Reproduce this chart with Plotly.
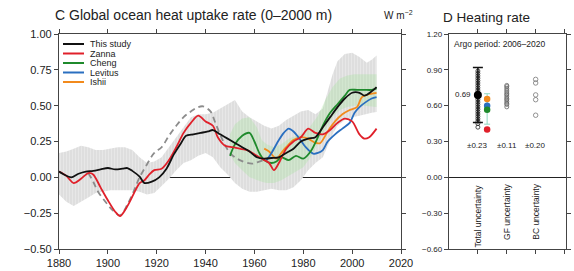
import plotly.graph_objects as go

# ---------------- Data: panel C (W m-2) ----------------
study_years = [1880,1882,1885,1888,1891,1894,1897,1900,1903,1906,1908,1910,1913,1915,1918,1921,1924,1927,1930,1932,1935,1938,1941,1943,1946,1949,1952,1955,1958,1961,1964,1967,1970,1973,1976,1979,1982,1985,1988,1991,1994,1997,2000,2003,2005,2008,2010]
study_vals  = [0.04,0.02,0.00,0.025,0.04,0.045,0.055,0.065,0.055,0.06,0.065,0.045,0.005,-0.04,-0.03,0.0,0.06,0.16,0.24,0.29,0.30,0.31,0.32,0.33,0.30,0.27,0.24,0.21,0.18,0.14,0.13,0.135,0.14,0.17,0.20,0.25,0.27,0.28,0.35,0.42,0.49,0.55,0.59,0.59,0.57,0.60,0.63]

zanna_years = [1880,1883,1886,1889,1892,1894,1897,1900,1903,1905,1907,1909,1911,1913,1915,1917,1919,1922,1925,1928,1931,1934,1937,1940,1943,1945,1948,1951,1954,1957,1960,1963,1966,1968,1970,1973,1976,1979,1982,1985,1988,1991,1994,1997,2000,2003,2005,2007,2010]
zanna_vals  = [0.04,0.01,-0.04,-0.01,0.03,0.02,-0.07,-0.16,-0.24,-0.27,-0.23,-0.17,-0.10,-0.04,-0.02,0.02,0.05,0.06,0.12,0.21,0.31,0.38,0.43,0.39,0.36,0.28,0.22,0.21,0.20,0.19,0.16,0.13,0.10,0.05,0.10,0.20,0.25,0.28,0.34,0.31,0.30,0.33,0.38,0.41,0.39,0.30,0.27,0.28,0.34]

cheng_years = [1950,1952,1955,1958,1960,1962,1964,1967,1969,1971,1974,1977,1980,1983,1986,1988,1991,1994,1997,1999,2002,2005,2008,2010]
cheng_vals  = [0.15,0.23,0.29,0.31,0.25,0.17,0.12,0.10,0.11,0.14,0.12,0.15,0.13,0.18,0.28,0.36,0.45,0.51,0.57,0.61,0.61,0.61,0.61,0.62]

levitus_years = [1965,1967,1970,1972,1974,1976,1978,1981,1984,1986,1988,1990,1993,1996,1999,2001,2003,2006,2008,2010]
levitus_vals  = [0.12,0.17,0.26,0.31,0.34,0.32,0.28,0.21,0.165,0.17,0.19,0.25,0.30,0.34,0.38,0.45,0.49,0.53,0.55,0.56]

ishii_years = [1964,1966,1969,1971,1973,1976,1979,1982,1985,1987,1990,1993,1996,1999,2002,2004,2007,2010]
ishii_vals  = [0.20,0.18,0.13,0.17,0.21,0.26,0.28,0.27,0.24,0.24,0.32,0.39,0.44,0.47,0.49,0.56,0.58,0.59]

dashed_years = [1892,1894,1896,1899,1902,1905,1908,1911,1913,1916,1919,1922,1925,1928,1931,1934,1937,1939,1942,1944,1947,1950,1954,1959,1962,1965]
dashed_vals  = [0.03,-0.03,-0.10,-0.17,-0.23,-0.265,-0.19,-0.08,0.0,0.09,0.17,0.21,0.29,0.36,0.42,0.46,0.49,0.495,0.46,0.38,0.26,0.17,0.12,0.095,0.11,0.13]

band_years = [1880,1883,1886,1889,1892,1895,1898,1901,1904,1907,1910,1913,1916,1919,1922,1925,1928,1931,1934,1937,1940,1943,1946,1949,1952,1955,1958,1961,1964,1967,1970,1973,1976,1979,1982,1985,1988,1990,1992,1994,1997,2000,2003,2006,2008,2010]
band_upper = [0.17,0.18,0.20,0.22,0.21,0.19,0.19,0.20,0.21,0.21,0.19,0.14,0.10,0.11,0.14,0.21,0.28,0.35,0.42,0.44,0.44,0.45,0.48,0.51,0.54,0.46,0.42,0.39,0.36,0.34,0.36,0.40,0.43,0.46,0.47,0.44,0.48,0.60,0.72,0.81,0.86,0.87,0.84,0.80,0.82,0.85]
band_lower = [-0.12,-0.17,-0.20,-0.17,-0.14,-0.11,-0.10,-0.09,-0.09,-0.09,-0.09,-0.10,-0.12,-0.11,-0.06,-0.01,0.05,0.10,0.12,0.15,0.17,0.14,0.07,0.02,-0.04,-0.08,-0.10,-0.10,-0.09,-0.08,-0.09,-0.09,-0.07,-0.02,0.05,0.10,0.14,0.22,0.30,0.36,0.40,0.42,0.43,0.44,0.45,0.455]

green_years = [1950,1952,1955,1958,1961,1963,1965,1968,1971,1974,1977,1980,1983,1986,1989,1992,1995,1998,2001,2005,2010]
green_upper = [0.30,0.37,0.41,0.42,0.35,0.26,0.23,0.21,0.23,0.27,0.29,0.31,0.36,0.43,0.54,0.63,0.69,0.71,0.72,0.72,0.72]
green_lower = [0.16,0.10,0.05,0.00,-0.02,-0.03,-0.04,-0.04,-0.02,0.01,0.04,0.07,0.14,0.23,0.33,0.42,0.47,0.49,0.50,0.50,0.49]

# ---------------- Data: panel D ----------------
total_mean = 0.69
total_err = 0.23
total_ensemble = [0.42,0.45,0.47,0.49,0.51,0.53,0.55,0.57,0.59,0.61,0.63,0.65,0.67,0.71,0.73,0.75,0.77,0.79,0.81,0.83,0.85,0.87,0.89]
gf_ensemble = [0.59,0.61,0.62,0.635,0.65,0.66,0.675,0.69,0.70,0.715,0.73,0.745,0.76,0.77]
bc_ensemble = [0.82,0.79,0.69,0.65,0.52]
products = ["Ishii", "Levitus", "Cheng", "Zanna"]
product_rates = [0.655, 0.60, 0.565, 0.40]
unc_labels = ["±0.23", "±0.11", "±0.20"]
cat_labels = ["Total uncertainty", "GF uncertainty", "BC uncertainty"]

C_BLACK = "#111111"
C_RED = "#e0202a"
C_GREEN = "#1f8a2c"
C_BLUE = "#2a6fc0"
C_ORANGE = "#f28a1c"

FONT = "Liberation Sans"
W, H = 574, 271

def px(x):
    return x / W

def py(y):
    return 1 - y / H

fig = go.Figure()

# gray uncertainty band
fig.add_trace(go.Scatter(
    x=band_years + band_years[::-1], y=band_upper + band_lower[::-1],
    fill="toself", mode="lines", line=dict(width=0),
    fillcolor="#dddddd",
    fillpattern=dict(shape="|", bgcolor="#dedede", fgcolor="#f0f0f0", size=3, solidity=0.35),
    hoverinfo="skip", showlegend=False, xaxis="x", yaxis="y"))
# green uncertainty band
fig.add_trace(go.Scatter(
    x=green_years + green_years[::-1], y=green_upper + green_lower[::-1],
    fill="toself", mode="lines", line=dict(width=0),
    fillcolor="rgba(150,228,140,0.26)",
    hoverinfo="skip", showlegend=False, xaxis="x", yaxis="y"))

fig.add_trace(go.Scatter(x=dashed_years, y=dashed_vals, mode="lines",
                         line=dict(color="#8c8c8c", width=1.8, dash="6px,4px", shape="spline"),
                         showlegend=False, xaxis="x", yaxis="y"))

series = [
    (ishii_years, ishii_vals, C_ORANGE),
    (levitus_years, levitus_vals, C_BLUE),
    (cheng_years, cheng_vals, C_GREEN),
    (zanna_years, zanna_vals, C_RED),
    (study_years, study_vals, C_BLACK),
]
for xs, ys, c in series:
    fig.add_trace(go.Scatter(x=xs, y=ys, mode="lines",
                             line=dict(color=c, width=1.8, shape="spline", smoothing=0.8),
                             showlegend=False, xaxis="x", yaxis="y"))

# ---- panel D ----
fig.add_trace(go.Scatter(x=[1] * len(total_ensemble), y=total_ensemble, mode="markers",
                         marker=dict(symbol="circle-open", size=4, color="#222", line=dict(width=0.8)),
                         showlegend=False, xaxis="x2", yaxis="y2"))
fig.add_trace(go.Scatter(x=[1], y=[total_mean], mode="markers",
                         marker=dict(symbol="circle", size=8, color="#000"),
                         error_y=dict(type="constant", value=total_err, color="#111", thickness=1.5, width=5),
                         showlegend=False, xaxis="x2", yaxis="y2"))
fig.add_trace(go.Scatter(x=[1.32], y=[0.5725], mode="markers",
                         marker=dict(size=1, color="rgba(0,0,0,0)"),
                         error_y=dict(type="constant", value=0.1275, color="#8fd8c0", thickness=1, width=3),
                         showlegend=False, xaxis="x2", yaxis="y2"))
prod_colors = [C_ORANGE, C_BLUE, C_GREEN, C_RED]
fig.add_trace(go.Scatter(x=[1.32] * len(product_rates), y=product_rates, mode="markers",
                         text=products,
                         marker=dict(symbol="circle", size=6.5, color=prod_colors),
                         showlegend=False, xaxis="x2", yaxis="y2"))
fig.add_trace(go.Scatter(x=[2] * len(gf_ensemble), y=gf_ensemble, mode="markers",
                         marker=dict(symbol="circle-open", size=4, color="#666", line=dict(width=0.8)),
                         showlegend=False, xaxis="x2", yaxis="y2"))
fig.add_trace(go.Scatter(x=[3] * len(bc_ensemble), y=bc_ensemble, mode="markers",
                         marker=dict(symbol="circle-open", size=4.5, color="#777", line=dict(width=0.8)),
                         showlegend=False, xaxis="x2", yaxis="y2"))

annotations = []
# titles
annotations.append(dict(text="C Global ocean heat uptake rate (0\u20132000 m)", x=px(53), y=py(15),
                        xref="paper", yref="paper", xanchor="left", yanchor="middle", showarrow=False,
                        font=dict(family=FONT, size=14, color="#222")))
annotations.append(dict(text="W m<sup>\u22122</sup>", x=px(382), y=py(15),
                        xref="paper", yref="paper", xanchor="left", yanchor="middle", showarrow=False,
                        font=dict(family=FONT, size=10, color="#222")))
annotations.append(dict(text="D Heating rate", x=px(441), y=py(18),
                        xref="paper", yref="paper", xanchor="left", yanchor="middle", showarrow=False,
                        font=dict(family=FONT, size=13.5, color="#222")))
annotations.append(dict(text="Argo period: 2006\u20132020", x=px(452), y=py(44),
                        xref="paper", yref="paper", xanchor="left", yanchor="middle", showarrow=False,
                        font=dict(family=FONT, size=8.5, color="#222")))

# manual legend
leg_names = ["This study", "Zanna", "Cheng", "Levitus", "Ishii"]
leg_colors = [C_BLACK, C_RED, C_GREEN, C_BLUE, C_ORANGE]
leg_y = [44, 53.5, 63, 72.5, 82]
shapes = []
for name, col, yy in zip(leg_names, leg_colors, leg_y):
    shapes.append(dict(type="line", xref="paper", yref="paper", x0=px(63), x1=px(84), y0=py(yy), y1=py(yy),
                       line=dict(color=col, width=2)))
    annotations.append(dict(text=name, x=px(88), y=py(yy), xref="paper", yref="paper",
                            xanchor="left", yanchor="middle", showarrow=False,
                            font=dict(family=FONT, size=9, color="#222")))

# panel D texts
annotations.append(dict(text="0.69", x=0.5, y=total_mean, xref="x2", yref="y2", showarrow=False,
                        xanchor="center", yanchor="middle", font=dict(family=FONT, size=8, color="#222")))
for i, t in enumerate(unc_labels):
    annotations.append(dict(text=t, x=i + 1, y=0.265, xref="x2", yref="y2", showarrow=False,
                            xanchor="center", yanchor="middle", font=dict(family=FONT, size=8, color="#222")))
for i, t in enumerate(cat_labels):
    annotations.append(dict(text=t, x=i + 1, y=-0.04, xref="x2", yref="y2", showarrow=False,
                            textangle=-90, xanchor="center", yanchor="top",
                            font=dict(family=FONT, size=8.5, color="#222")))

axis_common = dict(showline=True, linecolor="#444", linewidth=1.3, mirror="allticks",
                   ticks="outside", ticklen=4, tickcolor="#444", showgrid=False, automargin=False)

fig.update_layout(
    width=W, height=H, margin=dict(l=0, r=0, t=0, b=0, autoexpand=False),
    paper_bgcolor="white", plot_bgcolor="white",
    font=dict(family=FONT, color="#222"),
    xaxis=dict(domain=[px(59), px(401)], range=[1880, 2020], tickvals=[1880,1900,1920,1940,1960,1980,2000,2020],
               tickfont=dict(size=11), zeroline=False, **axis_common),
    yaxis=dict(domain=[py(249), py(34)], range=[-0.5, 1.0], tickvals=[-0.5,-0.25,0,0.25,0.5,0.75,1.0],
               tickformat=".2f", tickfont=dict(size=11),
               zeroline=True, zerolinecolor="#222", zerolinewidth=1.3, **axis_common),
    xaxis2=dict(domain=[px(449), px(566)], range=[0, 4.05], tickvals=[1, 2, 3, 4], showticklabels=False,
                zeroline=False, anchor="y2", **axis_common),
    yaxis2=dict(domain=[py(249), py(34)], range=[-0.6, 1.2], tickvals=[-0.6,-0.3,0,0.3,0.6,0.9,1.2],
                tickformat=".2f", tickfont=dict(size=8), anchor="x2",
                zeroline=True, zerolinecolor="#222", zerolinewidth=1.3, **axis_common),
    annotations=annotations, shapes=shapes,
)

fig.write_html("out.html", config={"displayModeBar": False},
               post_script="document.body.style.margin='0px';document.body.style.overflow='hidden';")
